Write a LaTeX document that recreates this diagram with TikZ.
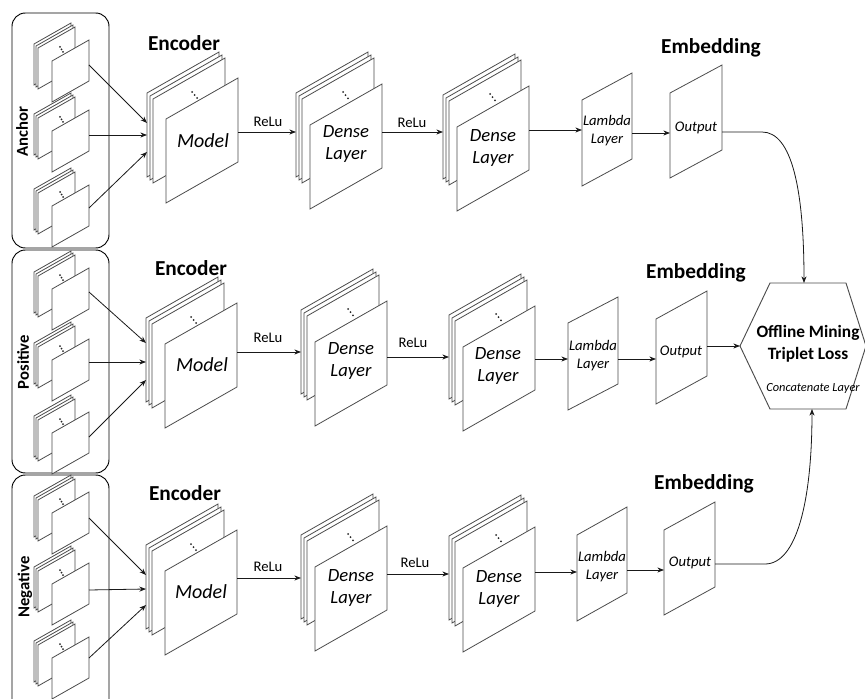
\documentclass[tikz,border=0pt]{standalone}
\usepackage{fontspec}
\setmainfont{Carlito}
\usetikzlibrary{arrows.meta}
\tikzset{
 plane/.style={draw=black!70, fill=white, line width=0.6pt, line join=miter},
 arr/.style={draw=black!90, line width=0.6pt, -{Stealth[length=5pt,width=3.8pt]}},
 head/.style={font=\fontsize{16}{18}\selectfont\bfseries, inner sep=0pt},
 side/.style={font=\fontsize{12.5}{14}\selectfont\bfseries, rotate=90, inner sep=0pt},
 relu/.style={font=\fontsize{11}{13}\selectfont, inner sep=0pt},
 big/.style={font=\fontsize{15}{17}\selectfont\itshape, inner sep=0pt},
 mid/.style={font=\fontsize{14}{16.5}\selectfont\itshape, inner sep=0pt, align=center},
 small/.style={font=\fontsize{11}{13.5}\selectfont\itshape, inner sep=0pt, align=center},
 hextext/.style={font=\fontsize{13}{16.5}\selectfont\bfseries, inner sep=0pt, align=center},
 tinyit/.style={font=\fontsize{9.3}{11}\selectfont\itshape, inner sep=0pt},
 grp/.style={draw=black, line width=0.7pt, rounded corners=10pt},
 hexa/.style={draw=black!70, line width=0.7pt, fill=white},
}
\newcommand\pl[5]{\filldraw[plane] ({#1},{#2}) -- ++(#3,-#5) -- ++(0,#4) -- ++(-#3,#5) -- cycle;}
\newcommand\tdots[4]{\foreach \k in {0,1,2}{\fill[black!85] ({#1+\k*#3},{#2+\k*#4}) circle (0.75pt);}}
\newcommand\instack[2]{%
 \pl{#1-18}{#2-17}{37}{41}{21}
 \pl{#1-16}{#2-15}{37}{41}{21}
 \pl{#1-14}{#2-13}{37}{41}{21}
 \tdots{#1+8}{#2-14}{1.5}{2.5}
 \pl{#1}{#2}{37}{41}{21}}
\newcommand\encstack[2]{%
 \pl{#1-19}{#2-26}{72}{84}{41}
 \pl{#1-16}{#2-23}{72}{84}{41}
 \pl{#1-13}{#2-20}{72}{84}{41}
 \tdots{#1+26}{#2-27}{2.5}{3}
 \pl{#1}{#2}{72}{84}{41}}
\newcommand\denstack[2]{%
 \pl{#1-14}{#2-32}{72}{84}{41}
 \pl{#1-11}{#2-29}{72}{84}{41}
 \pl{#1-8}{#2-26}{72}{84}{41}
 \tdots{#1+33}{#2-33}{2.5}{3.2}
 \pl{#1}{#2}{72}{84}{41}}
\begin{document}
\begin{tikzpicture}[x=0.75pt,y=-0.75pt]
\useasboundingbox (0,0) rectangle (865,699);
\clip (0,0) rectangle (865,699);

% ---------- group boxes ----------
\draw[grp] (12,13) rectangle (109,248);
\draw[grp] (12,250) rectangle (109,473);
\draw[grp] (12,475) rectangle (109,715);
\node[side] (lblA) at (22,132) {Anchor};
\node[side] (lblP) at (23,362) {Positive};
\node[side] (lblN) at (25,587) {Negative};

% ---------- row 1 ----------
\instack{52}{61} \instack{52}{131} \instack{52}{206}
\encstack{166}{119}
\denstack{310}{125}
\denstack{457}{127}
\pl{582}{100}{50}{86}{27}
\pl{670}{93}{52}{85}{28}
\node[head] (enc1) at (184,43) {Encoder};
\node[head] (emb1) at (711,48) {Embedding};
\node[big] (mod1) at (203,141) {Model};
\node[mid] (den1a) at (346,144) {Dense\\Layer};
\node[mid] (den1b) at (493,148) {Dense\\Layer};
\node[small] (lam1) at (607,131) {Lambda\\Layer};
\node[small] (out1) at (696,128) {Output};
\node[relu] (r1a) at (268,122) {ReLu};
\node[relu] (r1b) at (412,123) {ReLu};
\coordinate (a1s) at (89,65);  \coordinate (a1e) at (147,123);
\coordinate (a2s) at (89,135); \coordinate (a2e) at (147,135);
\coordinate (a3s) at (89,208); \coordinate (a3e) at (147,152);
\coordinate (e1s) at (238,132); \coordinate (e1e) at (296,132);
\coordinate (d1s) at (382,132); \coordinate (d1e) at (443,132);
\coordinate (g1s) at (529,130); \coordinate (g1e) at (582,130);
\coordinate (l1s) at (632,133); \coordinate (l1e) at (670,133);
\coordinate (o1s) at (722,132); \coordinate (o1m) at (762,132);
\draw[arr] (a1s) -- (a1e);
\draw[arr] (a2s) -- (a2e);
\draw[arr] (a3s) -- (a3e);
\draw[arr] (e1s) -- (e1e);
\draw[arr] (d1s) -- (d1e);
\draw[arr] (g1s) -- (g1e);
\draw[arr] (l1s) -- (l1e);

% ---------- row 2 ----------
\instack{52}{289} \instack{52}{360} \instack{52}{433}
\encstack{165}{344}
\denstack{315}{342}
\denstack{463}{347}
\pl{568}{323}{50}{87}{26}
\pl{656}{319}{51}{85}{28}
\node[head] (enc2) at (191,268) {Encoder};
\node[head] (emb2) at (696,273) {Embedding};
\node[big] (mod2) at (202,365) {Model};
\node[mid] (den2a) at (351,361) {Dense\\Layer};
\node[mid] (den2b) at (498,366) {Dense\\Layer};
\node[small] (lam2) at (593,356) {Lambda\\Layer};
\node[small] (out2) at (681,352) {Output};
\node[relu] (r2a) at (268,338) {ReLu};
\node[relu] (r2b) at (413,343) {ReLu};
\coordinate (b1s) at (89,292);  \coordinate (b1e) at (146,343);
\coordinate (b2s) at (89,362);  \coordinate (b2e) at (146,362);
\coordinate (b3s) at (89,437);  \coordinate (b3e) at (146,380);
\coordinate (e2s) at (237,352); \coordinate (e2e) at (301,352);
\coordinate (d2s) at (387,357); \coordinate (d2e) at (449,357);
\coordinate (g2s) at (535,359); \coordinate (g2e) at (568,359);
\coordinate (l2s) at (618,359); \coordinate (l2e) at (656,359);
\coordinate (o2s) at (707,346);
\draw[arr] (b1s) -- (b1e);
\draw[arr] (b2s) -- (b2e);
\draw[arr] (b3s) -- (b3e);
\draw[arr] (e2s) -- (e2e);
\draw[arr] (d2s) -- (d2e);
\draw[arr] (g2s) -- (g2e);
\draw[arr] (l2s) -- (l2e);

% ---------- row 3 ----------
\instack{52}{513} \instack{52}{584} \instack{52}{658}
\encstack{165}{571}
\denstack{315}{567}
\denstack{463}{568}
\pl{577}{535}{50}{86}{28}
\pl{664}{530}{51}{85}{28}
\node[head] (enc3) at (185,493) {Encoder};
\node[head] (emb3) at (704,484) {Embedding};
\node[big] (mod3) at (201,592) {Model};
\node[mid] (den3a) at (351,588) {Dense\\Layer};
\node[mid] (den3b) at (499,589) {Dense\\Layer};
\node[small] (lam3) at (602,567) {Lambda\\Layer};
\node[small] (out3) at (690,563) {Output};
\node[relu] (r3a) at (268,567) {ReLu};
\node[relu] (r3b) at (415,563) {ReLu};
\coordinate (c1s) at (89,518);  \coordinate (c1e) at (146,575);
\coordinate (c2s) at (89,590);  \coordinate (c2e) at (146,589);
\coordinate (c3s) at (89,658);  \coordinate (c3e) at (146,605);
\coordinate (e3s) at (237,578); \coordinate (e3e) at (301,578);
\coordinate (d3s) at (387,574); \coordinate (d3e) at (449,574);
\coordinate (g3s) at (535,572); \coordinate (g3e) at (577,572);
\coordinate (l3s) at (627,570); \coordinate (l3e) at (664,570);
\coordinate (o3s) at (715,564); \coordinate (o3m) at (765,564);
\draw[arr] (c1s) -- (c1e);
\draw[arr] (c2s) -- (c2e);
\draw[arr] (c3s) -- (c3e);
\draw[arr] (e3s) -- (e3e);
\draw[arr] (d3s) -- (d3e);
\draw[arr] (g3s) -- (g3e);
\draw[arr] (l3s) -- (l3e);

% ---------- loss hexagon ----------
\filldraw[hexa] (740,346) -- (770,283) -- (846,283) -- (866,346) -- (846,409) -- (770,409) -- cycle;
\coordinate (hexW) at (740,346);
\coordinate (hexN) at (804,283);
\coordinate (hexS) at (812,409);
\node[hextext] (loss) at (808,344) {Offline Mining\\Triplet Loss};
\node[tinyit] (concat) at (813,388) {Concatenate Layer};

\draw[arr] (o1s) -- (o1m) .. controls (792,132) and (804,190) .. (hexN);
\draw[arr] (o2s) -- (hexW);
\draw[arr] (o3s) -- (o3m) .. controls (797,564) and (812,500) .. (hexS);
\end{tikzpicture}
\end{document}
